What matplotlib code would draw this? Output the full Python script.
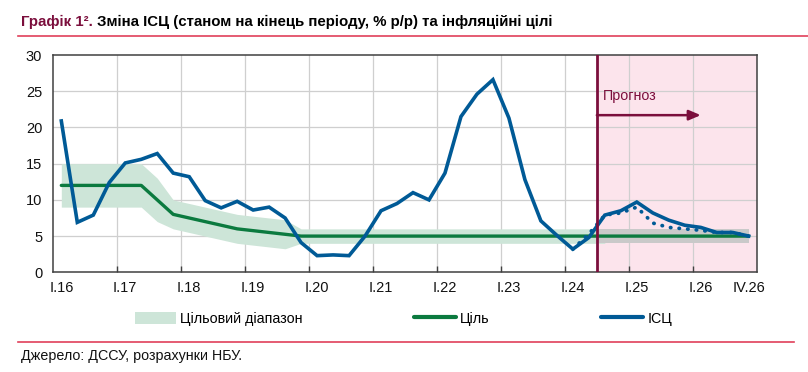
import numpy as np
import matplotlib
matplotlib.use("Agg")
import matplotlib.pyplot as plt
from matplotlib.patches import Patch
from matplotlib.lines import Line2D

plt.rcParams['font.family'] = ['Liberation Sans', 'DejaVu Sans']

# quarterly data, I.16 .. IV.26 (44 quarters)
cpi = [20.9, 6.9, 7.9, 12.4, 15.1, 15.6, 16.4, 13.7, 13.2, 9.9, 8.9, 9.8,
       8.6, 9.0, 7.5, 4.1, 2.3, 2.4, 2.3, 5.0, 8.5, 9.5, 11.0, 10.0,
       13.7, 21.5, 24.6, 26.6, 21.3, 12.8, 7.1, 5.1, 3.2, 4.8,
       7.9, 8.5, 9.7, 8.2, 7.2, 6.5, 6.2, 5.5, 5.5, 5.0]
# previous forecast (dotted), from I.24
cpi_prev = [3.2, 5.3, 7.9, 8.2, 9.0, 6.8, 6.2, 6.0, 5.8, 5.5, 5.5, 5.0]
prev_start = 32

target = [12, 12, 12, 12, 12, 12, 10, 8, 7.5, 7, 6.5, 6, 5.75, 5.5, 5.25] + [5] * 29
band_half = [3] * 7 + [2] * 8 + [1] * 29

tick_labels = ["I.16", "I.17", "I.18", "I.19", "I.20", "I.21", "I.22",
               "I.23", "I.24", "I.25", "I.26", "IV.26"]
tick_pos = [0, 4, 8, 12, 16, 20, 24, 28, 32, 36, 40, 43]
forecast_from = 33.5

blue = "#005a96"
green = "#0b7a3f"
band_green = "#cde5d8"
band_grey = "#c9c9c9"
pink = "#fce4ec"
maroon = "#7b0e3c"
grid_c = "#cfcfcf"

x = np.arange(len(cpi))
target = np.array(target)
band_half = np.array(band_half)

fig = plt.figure(figsize=(8.08, 3.72), dpi=100)
ax = fig.add_axes([0.066, 0.268, 0.8705, 0.584])

ax.axvspan(forecast_from, 43.5, color=pink, lw=0, zorder=0)

# grid
for yv in [5, 10, 15, 20, 25]:
    ax.axhline(yv, color=grid_c, lw=0.9, zorder=0.5)
for b in np.arange(3.5, 43, 4):
    ax.axvline(b, color=grid_c, lw=0.9, zorder=0.5)

# target band: green in history, grey in forecast part
hist = x <= 34
ax.fill_between(x[hist], (target - band_half)[hist], (target + band_half)[hist],
                color=band_green, lw=0, zorder=1)
xf = np.concatenate([[forecast_from], x[x >= 34]])
lo = np.concatenate([[4], (target - band_half)[x >= 34]])
hi = np.concatenate([[6], (target + band_half)[x >= 34]])
ax.fill_between(xf, lo, hi, color=band_grey, lw=0, zorder=1.1)

ax.plot(x, target, color=green, lw=2.4, solid_capstyle="round", zorder=2)
ax.plot(np.arange(prev_start, prev_start + len(cpi_prev)), cpi_prev,
        color=blue, lw=2.7, linestyle=(0, (0.1, 2.2)), dash_capstyle="round", zorder=3)
ax.plot(x, cpi, color=blue, lw=2.6, solid_joinstyle="miter", zorder=4)

ax.axvline(forecast_from, color=maroon, lw=2, zorder=5)
ax.annotate("", xy=(40.0, 21.7), xytext=(forecast_from, 21.7),
            arrowprops=dict(arrowstyle="-|>,head_length=0.7,head_width=0.3",
                            color=maroon, lw=1.8, shrinkA=0, shrinkB=0), zorder=5)
ax.text(33.9, 24.3, "Прогноз", color=maroon, fontsize=10.3, va="center", ha="left", zorder=6)

ax.set_xlim(-0.5, 43.5)
ax.set_ylim(0, 30)
ax.set_yticks([0, 5, 10, 15, 20, 25, 30])
ax.set_xticks(tick_pos)
ax.set_xticklabels(tick_labels)
ax.set_xticks(np.arange(3.5, 43, 4), minor=True)
ax.tick_params(axis="x", which="major", length=0, pad=6, labelsize=10.5, colors="#111111")
ax.tick_params(axis="x", which="minor", length=4, direction="in", color="#404040", width=1)
ax.tick_params(axis="y", length=0, pad=8, labelsize=10.5, colors="#111111")
for s in ax.spines.values():
    s.set_color("#404040")
    s.set_linewidth(1.1)

handles = [Patch(facecolor=band_green, edgecolor="none"),
           Line2D([], [], color=green, lw=3, solid_capstyle="round"),
           Line2D([], [], color=blue, lw=3, solid_capstyle="round")]
fig.legend(handles, ["Цільовий діапазон", "Ціль", "ІСЦ"], loc="center",
           bbox_to_anchor=(0.499, 0.143), ncol=3, frameon=False, fontsize=10.3,
           handlelength=2.9, handleheight=0.9, handletextpad=0.3, columnspacing=7.8)

# title
t1 = fig.text(21 / 808, 1 - 22 / 372, "Графік 1². ", color=maroon, fontsize=10.8,
              fontweight="bold", va="center", ha="left")
fig.canvas.draw()
bb = t1.get_window_extent(renderer=fig.canvas.get_renderer())
fig.text(bb.x1 / 808, 1 - 22 / 372,
         "Зміна ІСЦ (станом на кінець періоду, % р/р) та інфляційні цілі",
         color="black", fontsize=10.8, fontweight="bold", va="center", ha="left")
fig.add_artist(Line2D([18 / 808, 1.0], [1 - 36 / 372, 1 - 36 / 372],
                      color="#e0405a", lw=1.2))
fig.add_artist(Line2D([18 / 808, 794 / 808], [1 - 342 / 372, 1 - 342 / 372],
                      color="#e0405a", lw=1.2))
fig.text(21 / 808, 1 - 356 / 372, "Джерело: ДССУ, розрахунки НБУ.", fontsize=10.3,
         va="center", ha="left", color="#111111")

fig.savefig("out.png", dpi=100)
